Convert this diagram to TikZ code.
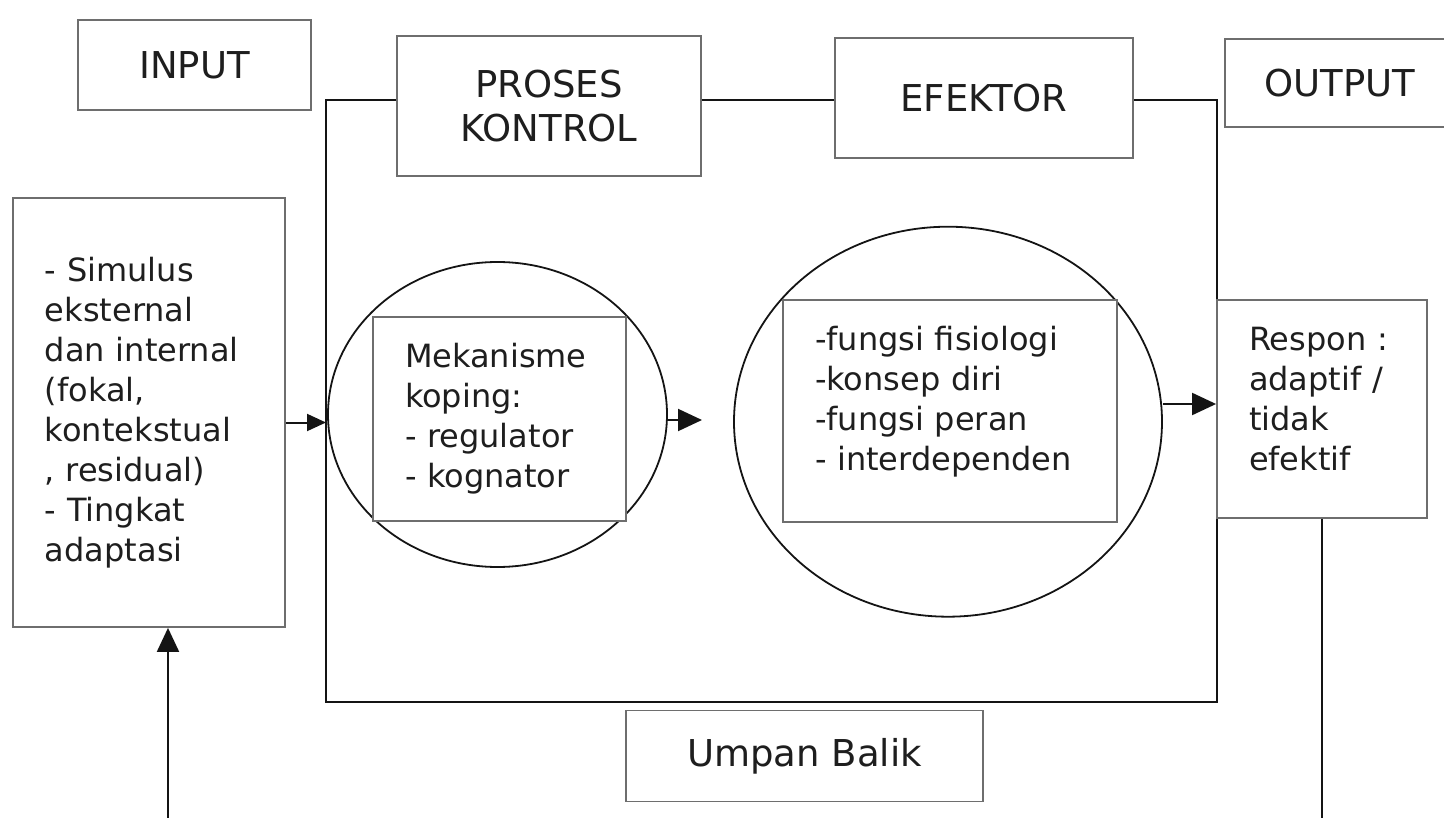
\documentclass[tikz,border=0pt]{standalone}
\usepackage{fontspec}
\setmainfont{DejaVu Sans}
\usetikzlibrary{arrows.meta, positioning, calc, shapes.geometric}
\definecolor{box-border}{HTML}{6E6E6E}
\definecolor{frame-black}{HTML}{141414}
\definecolor{label-ink}{HTML}{1E1E1E}
\tikzset{
  title-box/.style={
    draw=box-border, fill=white, line width=1.8pt, inner sep=0pt,
    align=center, text=label-ink, font=\fontsize{37pt}{44pt}\selectfont
  },
  list-box/.style={
    draw=box-border, fill=white, line width=1.8pt, inner xsep=32pt, inner ysep=0pt,
    align=left, text=label-ink, font=\fontsize{32pt}{40pt}\selectfont
  },
  ring/.style={draw=frame-black, ellipse, line width=1.8pt, inner sep=0pt},
  frame-line/.style={draw=frame-black, line width=2pt},
  flow-arrow/.style={-{Triangle[length=24pt, width=22pt]}, line width=2pt, draw=frame-black}
}

\begin{document}
\begin{tikzpicture}[x=1pt, y=-1pt]
  \useasboundingbox (0,0) rectangle (1444,818);

  % Kotak judul
  \node[title-box, minimum width=233pt, minimum height=90pt] (input) at (194.5,65) {INPUT};
  \node[title-box, minimum width=304pt, minimum height=140pt] (proses) at (549,106) {PROSES\\KONTROL};
  \node[title-box, minimum width=298pt, minimum height=120pt] (efektor) at (984,98) {EFEKTOR};
  \node[title-box, minimum width=230pt, minimum height=88pt] (output) at (1340,83) {OUTPUT};
  \node[title-box, minimum width=357pt, minimum height=91pt] (umpan) at (804.5,756) {Umpan Balik};

  % Bingkai sistem
  \coordinate (frame-nw) at (326,100);
  \coordinate (frame-se) at (1217,702);
  \draw[frame-line] (proses.west |- frame-nw) -- (frame-nw) -- (frame-nw |- frame-se)
    -- (frame-se) -- (frame-se |- frame-nw) -- (efektor.east |- frame-nw);
  \draw[frame-line] (proses.east |- frame-nw) -- (efektor.west |- frame-nw);

  % Input dan output
  \node[list-box, text width=208pt, minimum height=429pt] (stimulus) at (149,412.5) {
    - Simulus\\eksternal\\dan internal\\(fokal,\\kontekstual\\, residual)\\- Tingkat\\adaptasi
  };
  \node[list-box, text width=146pt, minimum height=218pt] (respon) at (1322,409) {
    Respon :\\adaptif /\\tidak\\efektif\par\vspace*{20pt}
  };

  % Lingkaran proses
  \node[ring, minimum width=339pt, minimum height=305pt] (coping-ring) at (497.5,414.5) {};
  \node[list-box, text width=189pt, minimum height=204pt] (coping) at (499.5,419) {
    Mekanisme\\koping:\\- regulator\\- kognator
  };
  \node[ring, minimum width=428pt, minimum height=390pt] (mode-ring) at (948,421.7) {};
  \node[list-box, text width=270pt, minimum height=222pt] (modes) at (950,411) {
    -fungsi fisiologi\\-konsep diri\\-fungsi peran\\- interdependen\par\vspace*{18pt}
  };

  % Panah aliran
  \draw[flow-arrow, -{Triangle[length=19pt, width=17pt]}]
    ([yshift=-10pt]stimulus.east) -- ([yshift=-10pt]stimulus.east -| frame-nw);
  \coordinate (gap-tip) at (702,420);
  \draw[flow-arrow] (coping-ring.east |- gap-tip) -- (gap-tip);
  \draw[flow-arrow] ([yshift=5pt]respon.west -| mode-ring.east) -- ([yshift=5pt]respon.west);

  % Umpan balik
  \coordinate (feedback-in) at (168,818);
  \draw[flow-arrow] (feedback-in) -- (feedback-in |- stimulus.south);
  \draw[frame-line] (respon.south) -- (respon.south |- feedback-in);
\end{tikzpicture}
\end{document}
